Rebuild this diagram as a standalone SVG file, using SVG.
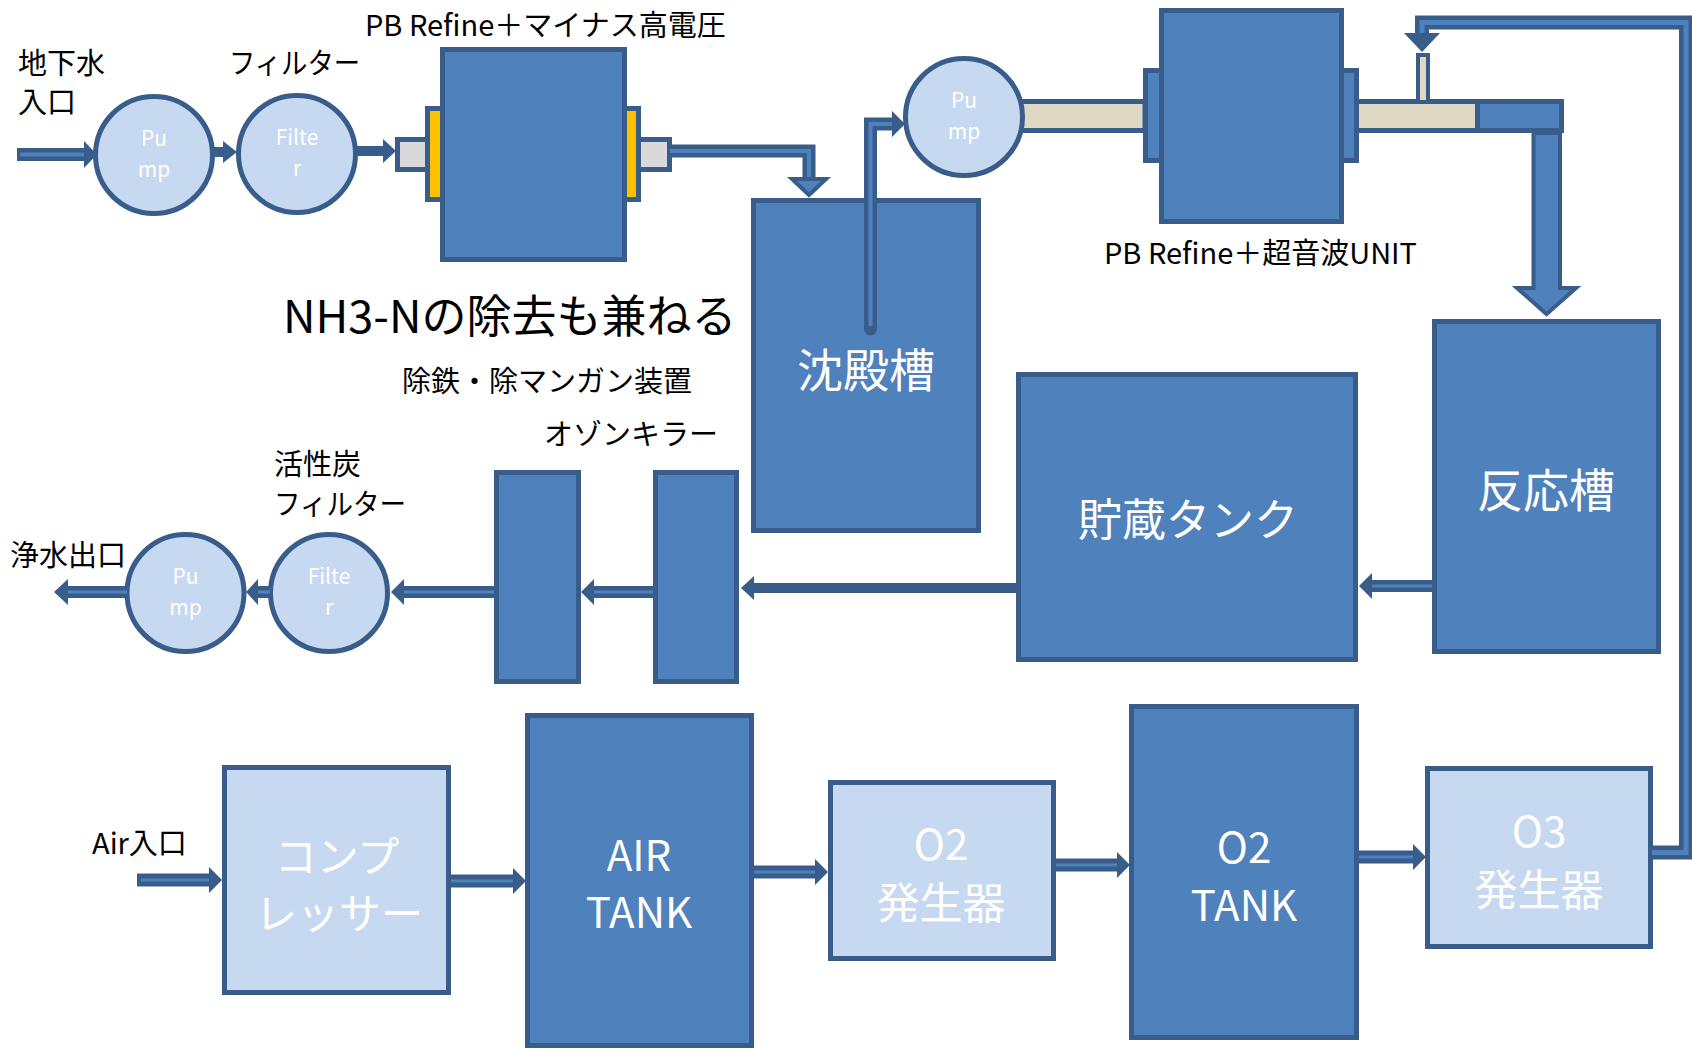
<svg xmlns="http://www.w3.org/2000/svg" width="1692" height="1049" viewBox="0 0 1692 1049">
<style>
.box{fill:#4F81BD;stroke:#385D8A;stroke-width:5}
.lbox{fill:#C6D9F1;stroke:#385D8A;stroke-width:5}
.circ{fill:#C6D9F1;stroke:#385D8A;stroke-width:5}
.fl{stroke:#385D8A;stroke-width:5}
.lab{font-family:"Noto Sans CJK JP","Noto Sans",sans-serif;font-size:29px;fill:#000;dominant-baseline:central}
.wt{font-family:"Noto Sans CJK JP","Noto Sans",sans-serif;fill:#fff;text-anchor:middle;dominant-baseline:central}
.pt{font-family:"Noto Sans CJK JP","Noto Sans",sans-serif;fill:#fff;text-anchor:middle;font-size:21px}
.po{fill:none;stroke:#385D8A;stroke-width:13}
.pi{fill:none;stroke:#4F81BD;stroke-width:4}
.ps{fill:none;stroke:#385D8A;stroke-width:10}
.hd{fill:#385D8A}
.bh{fill:#4F81BD;stroke:#385D8A;stroke-width:4;stroke-linejoin:miter}
</style>
<rect width="1692" height="1049" fill="#fff"/>

<g id="labels">
<text class="lab"><tspan x="18" y="61">地下水</tspan><tspan x="18" y="100">入口</tspan></text>
<text class="lab" x="229" y="61" textLength="131" lengthAdjust="spacingAndGlyphs">フィルター</text>
<text class="lab" x="365" y="23">PB Refine＋マイナス高電圧</text>
<text class="lab" x="283" y="313" style="font-size:45px">NH3-Nの除去も兼ねる</text>
<text class="lab" x="1104" y="251">PB Refine＋超音波UNIT</text>
<text class="lab" x="402" y="379">除鉄・除マンガン装置</text>
<text class="lab" x="544" y="432">オゾンキラー</text>
<text class="lab"><tspan x="274" y="462">活性炭</tspan><tspan x="274" y="502" textLength="132" lengthAdjust="spacingAndGlyphs">フィルター</tspan></text>
<text class="lab" x="10" y="553">浄水出口</text>
<text class="lab" x="92" y="841">Air入口</text>
</g>

<g id="pump1">
<circle class="circ" cx="154" cy="155" r="58.5"/>
<text class="pt"><tspan x="154" y="146">Pu</tspan><tspan x="154" y="177">mp</tspan></text>
</g>
<g id="filter1">
<circle class="circ" cx="297" cy="154" r="58.5"/>
<text class="pt"><tspan x="297" y="145">Filte</tspan><tspan x="297" y="176">r</tspan></text>
</g>

<g id="pbrefine1">
<rect x="397.5" y="139.5" width="32" height="30" fill="#D9D9D9" class="fl"/>
<rect x="638.5" y="139.5" width="31" height="30" fill="#D9D9D9" class="fl"/>
<rect x="427.5" y="108.5" width="15" height="91" fill="#FFC000" class="fl"/>
<rect x="624.5" y="108.5" width="14" height="91" fill="#FFC000" class="fl"/>
<rect class="box" x="442.5" y="49.5" width="182" height="210"/>
</g>

<g id="chindenso">
<rect class="box" x="753.5" y="200.5" width="225" height="330"/>
<text class="wt" x="866" y="367" style="font-size:46px">沈殿槽</text>
</g>

<g id="pbrefine2">
<rect x="1010" y="101.5" width="135" height="29" fill="#DDD9C3" class="fl"/>
<rect x="1356.5" y="101.5" width="121" height="29" fill="#DDD9C3" class="fl"/>
<rect x="1477.5" y="101.5" width="84" height="29" fill="#4F81BD" class="fl"/>
<rect x="1418" y="55" width="10" height="47" fill="#DDD9C3" stroke="#385D8A" stroke-width="4"/>
<rect x="1145.5" y="70.5" width="16" height="90" fill="#4F81BD" class="fl"/>
<rect x="1341.5" y="70.5" width="15" height="90" fill="#4F81BD" class="fl"/>
<rect class="box" x="1161.5" y="10.5" width="180" height="211"/>
</g>

<g id="pump2">
<circle class="circ" cx="964" cy="117" r="58.5"/>
<text class="pt"><tspan x="964" y="108">Pu</tspan><tspan x="964" y="139">mp</tspan></text>
</g>

<g id="hannoso">
<rect class="box" x="1434.5" y="321.5" width="224" height="330"/>
<text class="wt" x="1546" y="487" style="font-size:46px">反応槽</text>
</g>

<g id="chozo-tank">
<rect class="box" x="1018.5" y="374.5" width="337" height="285"/>
<text class="wt" x="1188" y="517" style="font-size:44px">貯蔵タンク</text>
</g>

<g id="tetsu-mangan">
<rect class="box" x="496.5" y="472.5" width="82" height="209"/>
</g>
<g id="ozone-killer">
<rect class="box" x="655.5" y="472.5" width="81" height="209"/>
</g>

<g id="filter2">
<circle class="circ" cx="329" cy="593" r="58.5"/>
<text class="pt"><tspan x="329" y="584">Filte</tspan><tspan x="329" y="615">r</tspan></text>
</g>
<g id="pump3">
<circle class="circ" cx="185.5" cy="593" r="58.5"/>
<text class="pt"><tspan x="185.5" y="584">Pu</tspan><tspan x="185.5" y="615">mp</tspan></text>
</g>

<g id="compressor">
<rect class="lbox" x="224.5" y="767.5" width="224" height="225"/>
<text class="wt" style="font-size:42px"><tspan x="337" y="853">コンプ</tspan><tspan x="339" y="910">レッサー</tspan></text>
</g>

<g id="air-tank">
<rect class="box" x="527.5" y="715.5" width="224" height="330"/>
<text class="wt" style="font-size:42px"><tspan x="639" y="852">AIR</tspan><tspan x="639" y="909">TANK</tspan></text>
</g>

<g id="o2-gen">
<rect class="lbox" x="830.5" y="782.5" width="223" height="176"/>
<text class="wt" style="font-size:42px"><tspan x="941" y="841">O2</tspan><tspan x="941" y="900" style="font-size:43px">発生器</tspan></text>
</g>

<g id="o2-tank">
<rect class="box" x="1131.5" y="706.5" width="225" height="331"/>
<text class="wt" style="font-size:42px"><tspan x="1244" y="844">O2</tspan><tspan x="1244" y="902">TANK</tspan></text>
</g>

<g id="o3-gen">
<rect class="lbox" x="1427.5" y="768.5" width="223" height="178"/>
<text class="wt" style="font-size:42px"><tspan x="1539" y="828">O3</tspan><tspan x="1539" y="887" style="font-size:43px">発生器</tspan></text>
</g>

<g id="connectors">
<path class="po" d="M17 154.5H86"/><path class="pi" d="M20 154.5H86"/>
<polygon class="hd" points="84,141 97,154.5 84,168"/>
<path class="ps" d="M212 152H225"/>
<polygon class="hd" points="223,141 237,152 223,163"/>
<path class="ps" d="M355 151H385"/>
<polygon class="hd" points="383,139 396,151 383,163"/>
<path class="po" d="M670 151H809V180" stroke-linejoin="miter"/>
<path class="pi" d="M670 151H809V180" stroke-linejoin="miter"/>
<polygon class="bh" points="792,179 826,179 809,195"/>
<path class="po" d="M870.5 329V124H894" stroke-linecap="round" stroke-linejoin="miter"/>
<path class="pi" d="M870.5 326V124H894" stroke-linejoin="miter"/>
<polygon class="hd" points="892,111 905,124 892,137"/>
<polygon class="bh" points="1533.5,133 1560,133 1560,288 1576,288 1546.5,314 1517,288 1533.5,288"/>
<path class="po" style="stroke-width:14" d="M1652 852.5H1686V22.5H1422V36" stroke-linejoin="miter"/>
<path class="pi" style="stroke-width:5" d="M1652 852.5H1686V22.5H1422V36" stroke-linejoin="miter"/>
<polygon class="hd" points="1404,33 1440,33 1422,52"/>
<path class="po" style="stroke-width:12" d="M1432 586H1368"/><path class="pi" style="stroke-width:3" d="M1432 586H1368"/>
<polygon class="hd" points="1372,573 1359,586 1372,599"/>
<path class="ps" d="M1016 588H752"/>
<polygon class="hd" points="754,576 741,588 754,600"/>
<path class="po" style="stroke-width:12" d="M653 592H590"/><path class="pi" style="stroke-width:3" d="M653 592H590"/>
<polygon class="hd" points="594,579 581,592 594,605"/>
<path class="po" style="stroke-width:12" d="M494 592H400"/><path class="pi" style="stroke-width:3" d="M494 592H400"/>
<polygon class="hd" points="404,579 391,592 404,605"/>
<path class="po" style="stroke-width:12" d="M270 592H254"/><path class="pi" style="stroke-width:3" d="M270 592H254"/>
<polygon class="hd" points="258,579 246,592 258,605"/>
<path class="po" style="stroke-width:12" d="M127 592H64"/><path class="pi" style="stroke-width:3" d="M127 592H64"/>
<polygon class="hd" points="68,579 54,592 68,605"/>
<path class="po" d="M137 880H212"/><path class="pi" style="stroke-width:3" d="M141 880H212"/>
<polygon class="hd" points="209,867 222,880 209,893"/>
<path class="po" d="M451 881H516"/><path class="pi" style="stroke-width:3" d="M451 881H516"/>
<polygon class="hd" points="513,868 526,881 513,894"/>
<path class="po" d="M754 872H818"/><path class="pi" style="stroke-width:3" d="M754 872H818"/>
<polygon class="hd" points="815,859 828,872 815,885"/>
<path class="po" d="M1056 865H1120"/><path class="pi" style="stroke-width:3" d="M1056 865H1120"/>
<polygon class="hd" points="1117,852 1130,865 1117,878"/>
<path class="po" d="M1359 857H1416"/><path class="pi" style="stroke-width:3" d="M1359 857H1416"/>
<polygon class="hd" points="1413,844 1426,857 1413,870"/>
</g>
</svg>
